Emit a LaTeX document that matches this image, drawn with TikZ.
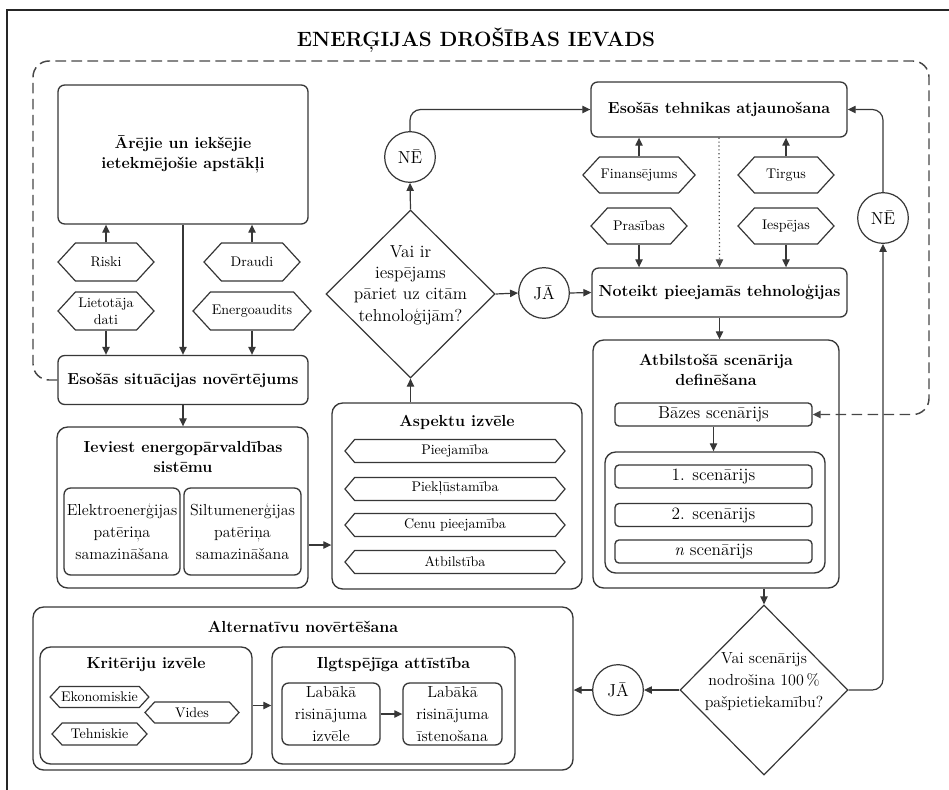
\documentclass[tikz,border=0pt]{standalone}
\usetikzlibrary{shapes.geometric,shapes.symbols,arrows.meta,calc}
\definecolor{lc}{RGB}{55,55,55}
\definecolor{dc}{RGB}{70,70,70}
\newcommand\FTitle{\fontsize{15.5}{20}\bfseries\selectfont}
\newcommand\FBold{\fontsize{12}{15}\bfseries\selectfont}
\newcommand\FNorm{\fontsize{13}{16}\selectfont}
\newcommand\FSmall{\fontsize{10.5}{12.5}\selectfont}
\newcommand\FMid{\fontsize{12}{16.5}\selectfont}
\tikzset{
  sz/.style 2 args={minimum width=#1*0.75pt, minimum height=#2*0.75pt},
  bx/.style={draw=lc, line width=1pt, rounded corners=5pt, fill=white, inner sep=2pt, align=center},
  bigbx/.style={draw=lc, line width=1pt, rounded corners=8pt, fill=white},
  smbx/.style={draw=lc, line width=1pt, rounded corners=3pt, fill=white, inner sep=1pt, font=\FNorm},
  hx/.style={draw=lc, line width=0.9pt, fill=white, shape=signal, signal to=west and east, signal pointer angle=95, inner sep=1pt, font=\FSmall, align=center},
  dia/.style={draw=lc, line width=0.9pt, shape=diamond, inner sep=0pt, fill=white},
  circ/.style={draw=lc, line width=0.9pt, shape=circle, inner sep=0pt, minimum size=38pt, font=\FNorm, fill=white},
  ln/.style={draw=lc, line width=0.9pt},
  arr/.style={ln, -{Triangle[length=6pt,width=5.5pt]}},
  dsh/.style={draw=dc, line width=1.1pt, dash pattern=on 8pt off 4pt},
  ttl/.style={font=\FBold, align=center, inner sep=0pt}
}
\begin{document}
\begin{tikzpicture}[x=0.75pt,y=-0.75pt]
\useasboundingbox (0,0) rectangle (949,789);
% frame
\draw[line width=2pt, draw=black!85] (7,800) -- (7,10) -- (960,10);
\node[font=\FTitle] (title) at (476,40) {ENERĢIJAS DROŠĪBAS IEVADS};

% left column
\node[bx, sz={250}{139}, font=\FBold] (ared) at (183,154.5) {Ārējie un iekšējie\\ietekmējošie apstākļi};
\node[hx, sz={96}{38}] (riski) at (106,262) {Riski};
\node[hx, sz={96}{38}] (liet) at (106,311) {Lietotāja\\dati};
\node[hx, sz={96}{38}] (draudi) at (252,262) {Draudi};
\node[hx, sz={96}{38}] (energo) at (252,311) {Energoaudits};
\node[bx, sz={250}{49}, font=\FBold] (esos) at (183,380) {Esošās situācijas novērtējums};

\node[bigbx, sz={251}{161}] (ieviest) at (182.5,507.5) {};
\node[ttl, align=center] (ieviestt) at (183,457) {Ieviest energopārvaldības\\sistēmu};
\node[bx, sz={116}{87}, font=\FMid] (elek) at (122,531.5) {Elektroenerģijas\\patēriņa\\samazināšana};
\node[bx, sz={117}{87}, font=\FMid] (silt) at (242.5,531.5) {Siltumenerģijas\\patēriņa\\samazināšana};

% aspects
\node[bigbx, sz={250}{186}] (aspekt) at (457,496) {};
\node[ttl] (aspektt) at (457,422) {Aspektu izvēle};
\node[hx, sz={220}{23}, signal pointer angle=100] (a1) at (455,451) {Pieejamība};
\node[hx, sz={220}{23}, signal pointer angle=100] (a2) at (455,489) {Piekļūstamība};
\node[hx, sz={220}{23}, signal pointer angle=100] (a3) at (455,525) {Cenu pieejamība};
\node[hx, sz={220}{23}, signal pointer angle=100] (a4) at (455,562) {Atbilstība};

% decision 1
\node[dia, sz={169}{168}] (d1) at (410.5,294) {};
\node[font=\FNorm, align=center, inner sep=0pt] (d1t) at (410.5,285) {Vai ir\\iespējams\\pāriet uz citām\\tehnoloģijām?};
\node[circ] (ne1) at (410,157) {NĒ};
\node[circ] (ja1) at (544,293) {JĀ};

% right top
\node[bx, sz={256}{55}, font=\FBold] (tech) at (719,109.5) {Esošās tehnikas atjaunošana};
\node[hx, sz={96}{36}] (fin) at (639,175) {Finansējums};
\node[hx, sz={96}{36}] (tirg) at (786,175) {Tirgus};
\node[hx, sz={96}{36}] (pras) at (639,226) {Prasības};
\node[hx, sz={96}{36}] (iesp) at (786,226) {Iespējas};
\node[circ] (ne2) at (883,218) {NĒ};
\node[bx, sz={255}{49}, font=\FBold] (noteikt) at (719.5,292.5) {Noteikt pieejamās tehnoloģijas};

% scenarios
\node[bigbx, sz={246}{248}] (atb) at (716,464) {};
\node[ttl] (atbt) at (716,370) {Atbilstošā scenārija\\definēšana};
\node[smbx, sz={197}{23}] (bazes) at (713.5,414.5) {Bāzes scenārijs};
\node[bigbx, sz={220}{121}] (inner) at (715,512.5) {};
\node[smbx, sz={197}{23}] (s1) at (713.5,476.5) {1. scenārijs};
\node[smbx, sz={197}{23}] (s2) at (713.5,515) {2. scenārijs};
\node[smbx, sz={197}{23}] (sn) at (713.5,551.5) {\textit{n} scenārijs};

% decision 2
\node[dia, sz={168}{170}] (d2) at (764,690) {};
\node[font=\FMid, align=center, inner sep=0pt] (d2t) at (764,682) {Vai scenārijs\\nodrošina 100\,\%\\pašpietiekamību?};
\node[circ] (ja2) at (618,690) {JĀ};

% alternatives
\node[bigbx, sz={540}{163}] (alt) at (303,688.5) {};
\node[ttl] (altt) at (303,627) {Alternatīvu novērtēšana};
\node[bigbx, sz={212}{117}] (krit) at (146,705.5) {};
\node[ttl] (kritt) at (146,665) {Kritēriju izvēle};
\node[hx, sz={95}{21}] (ekon) at (99.5,697) {Ekonomiskie};
\node[hx, sz={95}{22}] (tehn) at (99.5,734) {Tehniskie};
\node[hx, sz={94}{21}] (vides) at (192,712.5) {Vides};
\node[bigbx, sz={243}{117}] (ilgt) at (393.5,705.5) {};
\node[ttl] (ilgtt) at (393.5,665) {Ilgtspējīga attīstība};
\node[bx, sz={98}{62}, font=\FMid] (lab1) at (331,714) {Labākā\\risinājuma\\izvēle};
\node[bx, sz={99}{62}, font=\FMid] (lab2) at (452.5,714) {Labākā\\risinājuma\\īstenošana};

% connectors
\draw[arr] (riski.north) -- (riski.north |- ared.south);
\draw[arr] (draudi.north) -- (draudi.north |- ared.south);
\draw[arr] (ared.south) -- (esos.north);
\draw[arr] (liet.south) -- (liet.south |- esos.north);
\draw[arr] (energo.south) -- (energo.south |- esos.north);
\draw[arr] (esos.south) -- (ieviest.north -| esos.south);
\draw[arr] (ieviest.east |- 0,545) -- (aspekt.west |- 0,545);
\draw[arr] (d1.south |- aspekt.north) -- (d1.south);
\draw[arr] (d1.north) -- (ne1.south);
\draw[arr, rounded corners=8pt] (ne1.north) |- (tech.west);
\draw[arr] (d1.east) -- (ja1.west);
\draw[arr] (ja1.east) -- (noteikt.west);
\draw[arr] (fin.north) -- (fin.north |- tech.south);
\draw[arr] (tirg.north) -- (tirg.north |- tech.south);
\draw[arr] (pras.south) -- (pras.south |- noteikt.north);
\draw[arr] (iesp.south) -- (iesp.south |- noteikt.north);
\draw[arr, dotted, draw=dc] (tech.south) -- (noteikt.north);
\draw[arr, rounded corners=8pt] (ne2.north) |- (tech.east);
\draw[arr, rounded corners=8pt] (d2.east) -| (ne2.south);
\draw[arr] (noteikt.south) -- (noteikt.south |- atb.north);
\draw[arr] (bazes.south) -- (bazes.south |- inner.north);
\draw[arr] (d2.north |- atb.south) -- (d2.north);
\draw[arr] (d2.west) -- (ja2.east);
\draw[arr] (ja2.west) -- (ja2.west -| alt.east);
\draw[arr] (krit.east) -- (krit.east -| ilgt.west);
\draw[arr] (lab1.east) -- (lab2.west);
% dashed feedback loop
\draw[dsh, rounded corners=12pt, -{Triangle[length=6pt,width=5.5pt]}] (esos.west) -| (33,61) -| (929,414.5) -- (bazes.east);
\end{tikzpicture}
\end{document}
